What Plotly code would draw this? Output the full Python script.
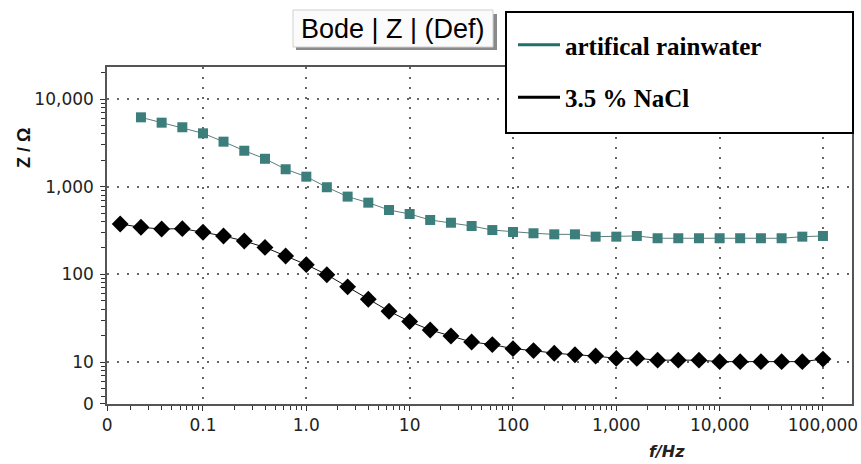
import plotly.graph_objects as go

# ---- data ----
freq_nacl = [0.0158, 0.0251, 0.0398, 0.0631, 0.1, 0.158, 0.251, 0.398, 0.631, 1.0,
             1.58, 2.51, 3.98, 6.31, 10, 15.8, 25.1, 39.8, 63.1, 100,
             158, 251, 398, 631, 1000, 1580, 2510, 3980, 6310, 10000,
             15800, 25100, 39800, 63100, 100000]
z_nacl = [375, 344, 329, 332, 302, 274, 240, 203, 162, 129,
          99, 72, 52, 38, 29, 23.2, 19.8, 16.9, 15.8, 14.2,
          13.5, 12.6, 12.1, 11.7, 11.0, 11.0, 10.5, 10.5, 10.5, 10.1,
          10.1, 10.1, 10.1, 10.1, 10.8]

freq_rain = [0.0251, 0.0398, 0.0631, 0.1, 0.158, 0.251, 0.398, 0.631, 1.0,
             1.58, 2.51, 3.98, 6.31, 10, 15.8, 25.1, 39.8, 63.1, 100,
             158, 251, 398, 631, 1000, 1580, 2510, 3980, 6310, 10000,
             15800, 25100, 39800, 63100, 100000]
z_rain = [6180, 5370, 4760, 4060, 3260, 2570, 2080, 1580, 1300,
          985, 770, 657, 542, 488, 417, 388, 356, 320, 304,
          294, 286, 286, 269, 269, 274, 258, 258, 258, 258,
          258, 258, 258, 269, 274]

series_names = ["artifical rainwater", "3.5 % NaCl"]

x_tick_vals = [0.0118, 0.1, 1, 10, 100, 1000, 10000, 100000]
x_tick_text = ["0", "0.1", "1.0", "10", "100", "1,000", "10,000", "100,000"]
y_tick_vals = [3.32, 10, 100, 1000, 10000]
y_tick_text = ["0", "10", "100", "1,000", "10,000"]

TEAL = "#3b7e7b"

# minor tick positions (2..9 per decade)
x_minor = [m * 10 ** k for k in range(-2, 6) for m in range(2, 10)]
y_minor = [m * 10 ** k for k in range(0, 5) for m in range(2, 10)]

fig = go.Figure()

fig.add_trace(go.Scatter(
    x=freq_rain, y=z_rain, mode="lines+markers", name=series_names[0],
    line=dict(color="#5d7c7b", width=1),
    marker=dict(symbol="square", size=10, color=TEAL),
    showlegend=False))
fig.add_trace(go.Scatter(
    x=freq_nacl, y=z_nacl, mode="lines+markers", name=series_names[1],
    line=dict(color="#111111", width=1),
    marker=dict(symbol="diamond", size=13, color="black"),
    showlegend=False))

# legend entries (line only, as in the reference)
fig.add_trace(go.Scatter(x=[None], y=[None], mode="lines",
                         name="<b>" + series_names[0] + "</b>",
                         line=dict(color="#1f6f6c", width=3), legendgroup="a"))
fig.add_trace(go.Scatter(x=[None], y=[None], mode="lines",
                         name="<b>" + series_names[1] + "</b>",
                         line=dict(color="black", width=3), legendgroup="b"))

tickfont = dict(family="DejaVu Sans", size=17, color="#222222")
axis_common = dict(
    type="log", showline=True, linecolor="#555555", linewidth=1.5, mirror=True,
    ticks="outside", ticklen=5, tickwidth=1, tickcolor="#333333",
    showgrid=True, gridcolor="#666666", gridwidth=1.5, griddash="1.5px,8.5px",
    zeroline=False, tickfont=tickfont, tickmode="array", automargin=False,
)

fig.update_xaxes(**axis_common, range=[-1.929, 5.281],
                 tickvals=x_tick_vals, ticktext=x_tick_text,
                 minor=dict(tickmode="array", tickvals=x_minor, ticks="outside",
                            ticklen=4, tickcolor="#333333", showgrid=False))
fig.update_yaxes(**axis_common, range=[0.521, 4.365],
                 tickvals=y_tick_vals, ticktext=y_tick_text, ticklabelstandoff=3,
                 minor=dict(tickmode="array", tickvals=y_minor, ticks="outside",
                            ticklen=4, tickcolor="#333333", showgrid=False))

shapes = [
    # title box shadow
    dict(type="rect", xref="paper", yref="paper",
         x0=(296 - 107) / 745, x1=(497 - 107) / 745,
         y0=(404 - 50) / 337, y1=(404 - 14) / 337,
         fillcolor="#8a8a8a", line=dict(width=0), layer="above"),
    # title box
    dict(type="rect", xref="paper", yref="paper",
         x0=(293 - 107) / 745, x1=(493 - 107) / 745,
         y0=(404 - 47) / 337, y1=(404 - 10) / 337,
         fillcolor="#fbfbfb", line=dict(color="#d0d0d0", width=1), layer="above"),
    # legend box
    dict(type="rect", xref="paper", yref="paper",
         x0=(506 - 107) / 745, x1=(853 - 107) / 745,
         y0=(404 - 133) / 337, y1=(404 - 12) / 337,
         fillcolor="white", line=dict(color="black", width=2), layer="above"),
]

annotations = [
    dict(text="Bode | Z | (Def)", xref="paper", yref="paper",
         x=(393 - 107) / 745, y=(404 - 29) / 337, xanchor="center", yanchor="middle",
         showarrow=False, font=dict(family="Liberation Sans", size=27, color="black")),
    dict(text="<b>Z / Ω</b>", xref="paper", yref="paper", textangle=-90,
         x=(24 - 107) / 745, y=(404 - 148) / 337, xanchor="center", yanchor="middle",
         showarrow=False, font=dict(family="Liberation Sans", size=18, color="#111111")),
    dict(text="<b><i>f/Hz</i></b>", xref="paper", yref="paper",
         x=(667 - 107) / 745, y=(404 - 451) / 337, xanchor="center", yanchor="middle",
         showarrow=False, font=dict(family="DejaVu Sans", size=16, color="#222222")),
]

fig.update_layout(
    width=861, height=464,
    margin=dict(l=107, r=9, t=67, b=60, autoexpand=False),
    paper_bgcolor="white", plot_bgcolor="white",
    shapes=shapes, annotations=annotations,
    legend=dict(x=(513 - 107) / 745, y=(404 - 22) / 337, xanchor="left", yanchor="top",
                bgcolor="rgba(0,0,0,0)", borderwidth=0, tracegroupgap=17,
                itemwidth=42, traceorder="grouped",
                font=dict(family="Liberation Serif", size=25, color="black")),
)

fig.write_html("out.html",
               config={"displayModeBar": False},
               post_script="document.body.style.margin='0px';"
                           "document.body.style.overflow='hidden';")
